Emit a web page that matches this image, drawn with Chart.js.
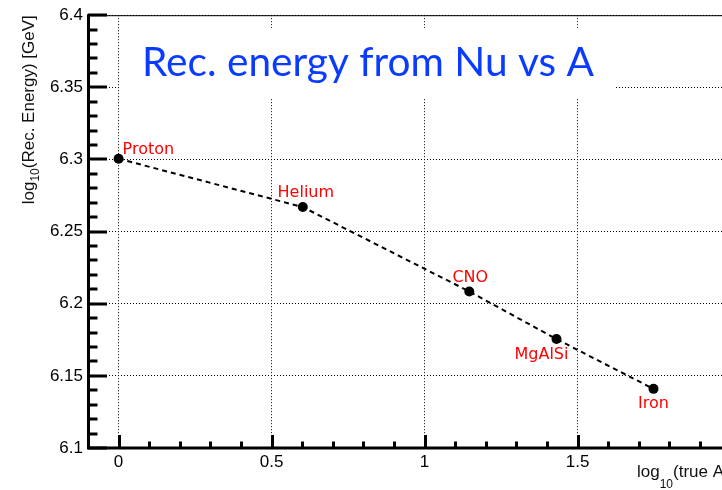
<!DOCTYPE html>
<html>
<head>
<meta charset="utf-8">
<script src="https://cdn.jsdelivr.net/npm/chart.js@4/dist/chart.umd.min.js"></script>
<style>
  html, body { margin: 0; padding: 0; background: #fff; overflow: hidden; }
  #wrap { width: 740px; height: 490px; }
</style>
</head>
<body>
<div id="wrap"><canvas id="myChart" width="740" height="490"></canvas></div>
<script>
// values
const elements = ['Proton', 'Helium', 'CNO', 'MgAlSi', 'Iron']
const logTrueA = [0, 0.602, 1.146, 1.431, 1.748]
const logRecEnergy = [6.3005, 6.267, 6.2085, 6.1755, 6.141]
// where each name sits next to its point
const labelPlacement = [
  { dx: 4, dy: -5, align: 'left' },
  { dx: 3, dy: -10, align: 'center' },
  { dx: 1, dy: -9, align: 'center' },
  { dx: -15, dy: 20, align: 'center' },
  { dx: 0, dy: 19, align: 'center' },
]

const xMin = -0.1
const xMax = 2.0
const yMin = 6.1
const yMax = 6.4

const tickFont = '17px "Liberation Sans", Arial, sans-serif'

function drawSubText(ctx, parts, x, y) {
  // parts: [text, sizePx, baselineShift]
  let cx = x
  parts.forEach(([t, size, shift]) => {
    ctx.font = size + 'px "Liberation Sans", Arial, sans-serif'
    ctx.fillText(t, cx, y + shift)
    cx += ctx.measureText(t).width
  })
}

const rootFrame = {
  id: 'rootFrame',
  beforeDatasetsDraw(chart) {
    const ctx = chart.ctx
    // white box behind the slide title
    ctx.save()
    ctx.fillStyle = '#fff'
    ctx.fillRect(121, 28, 495, 70)
    const title = 'Rec. energy from Nu vs A'
    let size = 44
    ctx.font = size + 'px Lato, "Open Sans", sans-serif'
    size = size * 452 / ctx.measureText(title).width
    ctx.font = size + 'px Lato, "Open Sans", sans-serif'
    ctx.fillStyle = '#0a3cff'
    ctx.textBaseline = 'alphabetic'
    ctx.fillText(title, 142, 76)
    ctx.restore()
  },
  afterDatasetsDraw(chart) {
    const ctx = chart.ctx
    const { left, right, top, bottom } = chart.chartArea
    const xs = chart.scales.x
    const ys = chart.scales.y
    ctx.save()
    ctx.strokeStyle = '#000'
    ctx.lineCap = 'butt'

    // top frame
    ctx.lineWidth = 1
    ctx.beginPath()
    ctx.moveTo(left, top + 0.5)
    ctx.lineTo(right, top + 0.5)
    ctx.stroke()

    // axes
    ctx.lineWidth = 3
    ctx.beginPath()
    ctx.moveTo(left + 0.5, top - 1)
    ctx.lineTo(left + 0.5, bottom + 1.5)
    ctx.moveTo(left - 1, bottom)
    ctx.lineTo(right, bottom)
    ctx.stroke()

    // y ticks, inside
    const nY = Math.round((yMax - yMin) / 0.01)
    for (let i = 0; i <= nY; i++) {
      const py = Math.round(ys.getPixelForValue(yMin + i * 0.01))
      const len = i % 5 === 0 ? 19 : 9.5
      ctx.beginPath()
      ctx.moveTo(left, py)
      ctx.lineTo(left + len, py)
      ctx.stroke()
    }

    // x ticks, inside
    const nX = Math.round((xMax - xMin) / 0.1)
    for (let i = 0; i <= nX; i++) {
      const v = xMin + i * 0.1
      const px = Math.round(xs.getPixelForValue(v)) + 0.5
      const major = Math.abs(v / 0.5 - Math.round(v / 0.5)) < 1e-6
      const len = major ? 13 : 6.5
      ctx.beginPath()
      ctx.moveTo(px, bottom)
      ctx.lineTo(px, bottom - len)
      ctx.stroke()
    }

    // element names
    const meta = chart.getDatasetMeta(0)
    ctx.fillStyle = '#ff0000'
    ctx.font = '16px "DejaVu Sans", sans-serif'
    ctx.textBaseline = 'alphabetic'
    meta.data.forEach((pt, i) => {
      const p = labelPlacement[i]
      ctx.textAlign = p.align
      ctx.fillText(elements[i], pt.x + p.dx, pt.y + p.dy)
    })

    // axis titles
    ctx.fillStyle = '#111'
    ctx.textAlign = 'left'
    const yParts = [['log', 17, 0], ['10', 12, 5], ['(Rec. Energy) [GeV]', 17, 0]]
    let total = 0
    yParts.forEach(([t, s]) => {
      ctx.font = s + 'px "Liberation Sans", Arial, sans-serif'
      total += ctx.measureText(t).width
    })
    ctx.save()
    ctx.translate(34, top + total)
    ctx.rotate(-Math.PI / 2)
    drawSubText(ctx, yParts, 0, 0)
    ctx.restore()

    drawSubText(ctx, [['log', 17, 0], ['10', 12, 11], ['(true A)', 17, 0]], 637, 477)
    ctx.restore()
  },
}

const ctx = document.getElementById('myChart').getContext('2d')

new Chart(ctx, {
  type: 'scatter',
  data: {
    datasets: [
      {
        data: logTrueA.map((x, i) => ({ x: x, y: logRecEnergy[i] })),
        showLine: true,
        borderColor: '#000',
        borderWidth: 2,
        borderDash: [5, 4],
        backgroundColor: '#000',
        pointBackgroundColor: '#000',
        pointBorderColor: '#000',
        pointRadius: 5,
        pointBorderWidth: 0,
        tension: 0,
      },
    ],
  },
  options: {
    responsive: false,
    animation: false,
    devicePixelRatio: 1,
    layout: { padding: { top: 15, right: 9.4, left: 0, bottom: 0 } },
    plugins: {
      legend: { display: false },
      tooltip: { enabled: false },
      title: { display: false },
    },
    scales: {
      x: {
        type: 'linear',
        min: xMin,
        max: xMax,
        afterFit: (scale) => { scale.height = 42 },
        ticks: {
          stepSize: 0.5,
          includeBounds: false,
          color: '#000',
          padding: 4,
          maxRotation: 0,
          font: { family: '"Liberation Sans", Arial, sans-serif', size: 17 },
          callback: (v) => String(+(+v).toFixed(2)),
        },
        grid: { color: '#000', lineWidth: 1, drawTicks: false },
        border: { display: false, dash: [1, 2] },
      },
      y: {
        type: 'linear',
        min: yMin,
        max: yMax,
        afterFit: (scale) => { scale.width = 88 },
        ticks: {
          stepSize: 0.05,
          color: '#000',
          padding: 5,
          font: { family: '"Liberation Sans", Arial, sans-serif', size: 17 },
          callback: (v) => String(+(+v).toFixed(2)),
        },
        grid: { color: '#000', lineWidth: 1, drawTicks: false },
        border: { display: false, dash: [1, 2] },
      },
    },
  },
  plugins: [rootFrame],
})
</script>
</body>
</html>
